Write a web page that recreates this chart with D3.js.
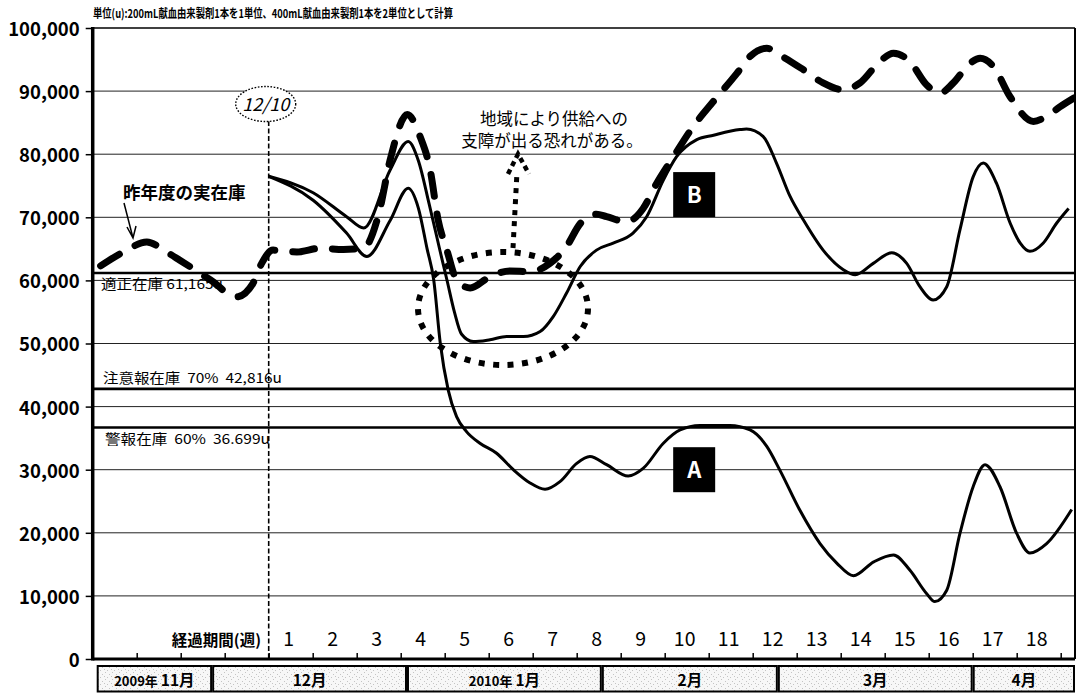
<!DOCTYPE html>
<html>
<head>
<meta charset="utf-8">
<script src="https://cdn.jsdelivr.net/npm/d3@7/dist/d3.min.js"></script>
<style>
  body { margin: 0; background: #fff; }
  svg text { font-family: "Noto Sans CJK JP", "Noto Sans", sans-serif; }
</style>
</head>
<body>
<svg id="chart" width="1078" height="695"></svg>
<script>
// x values are weeks elapsed since 2009-12-10 (week 0), y values are units (u)

// previous year's actual stock
const lastYearWeeks = [-3.82, -3.3, -2.77, -2.32, -2.02, -1.33, -0.73, -0.36, -0.16, 0.1, 0.64, 1.17, 1.7, 2.15, 2.5, 2.76, 3.15, 3.44, 3.67, 3.85, 4.05, 4.27, 4.58, 5.03, 5.48, 5.94, 6.39, 6.77, 7.08, 7.45, 7.68, 8.14, 8.51, 8.82, 9.2, 9.65, 10.1, 10.64, 10.94, 11.32, 11.62, 12.15, 12.6, 13.06, 13.44, 13.89, 14.2, 14.57, 14.95, 15.26, 15.56, 15.94, 16.17, 16.47, 16.85, 17.38, 17.68, 17.98, 18.3];
const lastYearStock = [62300, 64500, 66100, 64500, 63200, 60100, 57400, 59500, 62700, 64800, 64500, 65100, 64900, 65100, 70500, 79100, 86300, 82800, 77500, 69600, 64800, 60100, 58800, 60600, 61500, 61400, 62700, 65400, 69000, 70500, 70100, 69300, 71400, 75400, 79600, 84400, 88300, 92800, 95500, 96800, 95700, 93400, 91300, 90200, 91300, 94700, 96000, 94700, 91000, 89700, 91300, 94400, 95200, 93900, 89100, 85200, 86000, 87500, 88900];

// scenario A
const scenarioAWeeks = [0, 1.01, 1.77, 2.23, 2.76, 3.17, 3.4, 3.6, 3.75, 3.9, 4.08, 4.27, 4.5, 4.8, 5.18, 5.56, 5.94, 6.28, 6.62, 7.0, 7.3, 7.68, 8.17, 8.51, 8.97, 9.35, 9.8, 10.48, 10.94, 11.32, 11.62, 12.07, 12.53, 12.91, 13.29, 13.75, 14.2, 14.57, 14.95, 15.14, 15.41, 15.71, 16.01, 16.28, 16.62, 17.0, 17.3, 17.68, 18.25];
const scenarioAStock = [76500, 72700, 67500, 63800, 69500, 74600, 71500, 65000, 60100, 50000, 42600, 38400, 36000, 34200, 32600, 30000, 27900, 26900, 28100, 31000, 32100, 30800, 29000, 30200, 34200, 36300, 37000, 37000, 36300, 33700, 29900, 23600, 18300, 15200, 13200, 15400, 16500, 14100, 10400, 9100, 10900, 19900, 27300, 30800, 27300, 19900, 16800, 18300, 23700];

// scenario B
const scenarioBWeeks = [0, 1.01, 1.77, 2.16, 2.76, 3.17, 3.4, 3.65, 3.9, 4.05, 4.22, 4.38, 4.65, 5.03, 5.41, 5.79, 6.17, 6.47, 6.77, 7.08, 7.45, 7.83, 8.28, 8.59, 8.97, 9.27, 9.73, 10.11, 10.71, 10.86, 11.24, 11.54, 11.85, 12.15, 12.6, 13.06, 13.33, 13.74, 14.16, 14.5, 14.8, 15.1, 15.41, 15.71, 16.01, 16.24, 16.54, 16.85, 17.08, 17.3, 17.6, 17.91, 18.18];
const scenarioBStock = [76500, 73900, 70100, 68300, 77500, 82000, 79000, 72000, 64500, 60100, 55000, 51500, 50300, 50600, 51100, 51100, 51900, 54300, 58000, 62200, 64800, 65900, 67500, 70100, 75900, 79600, 82300, 83000, 83900, 84000, 82800, 78600, 73300, 69600, 64800, 61700, 60900, 62700, 64400, 62700, 59000, 56900, 59000, 68000, 76400, 78600, 75400, 69100, 65900, 64600, 65900, 69100, 71400];

const yTicks = [0, 10000, 20000, 30000, 40000, 50000, 60000, 70000, 80000, 90000, 100000];
const weekTicks = d3.range(-3, 19);
const weekLabels = d3.range(1, 19);

// stock thresholds
const levelValues = [61165, 42816, 36699];
const levelLabels = ["適正在庫 61,165u", "注意報在庫  70%  42,816u", "警報在庫  60%  36.699u"];

// month strips: first day of each month, as days from 2009-12-10
const monthYears = ["2009年", "", "2010年", "", "", ""];
const monthLabels = ["11月", "12月", "1月", "2月", "3月", "4月"];
const monthStartDays = [-39, -9, 22, 53, 81, 112];

const svg = d3.select("#chart");
const plotL = 92.7, plotR = 1075, plotT = 28, plotB = 659;

const x = d3.scaleLinear().domain([-4, 18.325]).range([plotL, plotR]);
const y = d3.scaleLinear().domain([0, 100000]).range([plotB, plotT]);

const defs = svg.append("defs");
defs.append("clipPath").attr("id", "plot")
  .append("rect").attr("x", plotL).attr("y", plotT - 10).attr("width", plotR - plotL).attr("height", plotB - plotT + 10);

// speckled fill of the month strips
const pat = defs.append("pattern").attr("id", "halftone")
  .attr("width", 7).attr("height", 7).attr("patternUnits", "userSpaceOnUse");
pat.append("rect").attr("width", 7).attr("height", 7).attr("fill", "#f7f7f7");
[[0, 0], [4, 2], [2, 5], [6, 4]].forEach(([a, b]) =>
  pat.append("rect").attr("x", a).attr("y", b).attr("width", 1).attr("height", 1).attr("fill", "#c4c4c4"));

// title
svg.append("text").attr("x", 93).attr("y", 18)
  .attr("font-size", 12).attr("font-weight", "bold")
  .attr("textLength", 360).attr("lengthAdjust", "spacingAndGlyphs")
  .text("単位(u):200mL献血由来製剤1本を1単位、400mL献血由来製剤1本を2単位として計算");

// gridlines and y axis
svg.append("g").selectAll("line").data(yTicks.filter(v => v > 0 && v < 100000)).join("line")
  .attr("x1", plotL).attr("x2", plotR).attr("y1", d => y(d)).attr("y2", d => y(d))
  .attr("stroke", "#222").attr("stroke-width", 1);

const yAxis = d3.axisLeft(y).tickValues(yTicks).tickSize(7).tickPadding(6)
  .tickFormat(d3.format(","));
const ya = svg.append("g").attr("transform", `translate(${plotL},0)`).call(yAxis);
ya.select(".domain").remove();
ya.selectAll(".tick line").attr("stroke", "#000").attr("stroke-width", 1.5);
ya.selectAll(".tick text").attr("font-family", "Liberation Sans, Arial, sans-serif")
  .attr("font-size", 18.5).attr("font-weight", "bold").attr("fill", "#000").attr("dy", "0.4em");

// frame
svg.append("line").attr("x1", plotL).attr("x2", plotR).attr("y1", plotT).attr("y2", plotT)
  .attr("stroke", "#000").attr("stroke-width", 1.5);
svg.append("line").attr("x1", plotR).attr("x2", plotR).attr("y1", plotT).attr("y2", plotB)
  .attr("stroke", "#000").attr("stroke-width", 2);

// threshold lines
svg.append("g").selectAll("line").data(levelValues).join("line")
  .attr("x1", plotL).attr("x2", plotR).attr("y1", d => y(d)).attr("y2", d => y(d))
  .attr("stroke", "#000").attr("stroke-width", 2.6);

const levelPos = [[101, 16, 122], [103, -6, 179], [105, 17, 165]];
svg.append("g").selectAll("text").data(levelLabels).join("text")
  .attr("x", (d, i) => levelPos[i][0])
  .attr("y", (d, i) => y(levelValues[i]) + levelPos[i][1])
  .attr("font-size", 13.5).attr("style", "white-space:pre")
  .attr("textLength", (d, i) => levelPos[i][2]).attr("lengthAdjust", "spacingAndGlyphs")
  .text(d => d);

// week axis
const xAxis = d3.axisTop(x).tickValues(weekTicks).tickSize(6).tickFormat("");
const xa = svg.append("g").attr("transform", `translate(0,${plotB})`).call(xAxis);
xa.select(".domain").remove();
xa.selectAll(".tick line").attr("stroke", "#000").attr("stroke-width", 1.5);

svg.append("g").selectAll("text").data(weekLabels).join("text")
  .attr("x", d => x(d - 0.5) - 2).attr("y", 646)
  .attr("text-anchor", "middle").attr("font-family", "Liberation Sans, Arial, sans-serif")
  .attr("font-size", 19.5).text(d => d);
svg.append("text").attr("x", 261).attr("y", 646).attr("text-anchor", "end")
  .attr("font-size", 15.5).attr("font-weight", "bold").text("経過期間(週)");

// axis lines
svg.append("line").attr("x1", plotL).attr("x2", plotR).attr("y1", plotB).attr("y2", plotB)
  .attr("stroke", "#000").attr("stroke-width", 3);
svg.append("line").attr("x1", plotL).attr("x2", plotL).attr("y1", plotT - 1).attr("y2", plotB + 1.5)
  .attr("stroke", "#000").attr("stroke-width", 3.5);

// month strips
const monthEnds = monthStartDays.slice(1).concat([x.domain()[1] * 7]);
const months = svg.append("g");
monthLabels.forEach((m, i) => {
  const x0 = Math.max(x(monthStartDays[i] / 7), plotL + 4) + 1;
  const x1 = Math.min(x(monthEnds[i] / 7), plotR) - 1;
  months.append("rect").attr("x", x0).attr("y", 666).attr("width", x1 - x0).attr("height", 25.5)
    .attr("fill", "url(#halftone)").attr("stroke", "#000").attr("stroke-width", 2);
  const t = months.append("text").attr("x", (x0 + x1) / 2).attr("y", 686)
    .attr("text-anchor", "middle").attr("font-weight", "bold").attr("style", "white-space:pre");
  if (monthYears[i]) t.append("tspan").attr("font-size", 13).text(monthYears[i] + " ");
  t.append("tspan").attr("font-size", 15.5).text(m);
});

// 12/10 marker
const markX = x(0);
svg.append("line").attr("x1", markX).attr("x2", markX).attr("y1", 121).attr("y2", plotB)
  .attr("stroke", "#000").attr("stroke-width", 1.6).attr("stroke-dasharray", "5 2.5");
svg.append("ellipse").attr("cx", markX - 3).attr("cy", 104).attr("rx", 30).attr("ry", 17.5)
  .attr("fill", "#fff").attr("stroke", "#000").attr("stroke-width", 1.4).attr("stroke-dasharray", "1.6 1.6");
svg.append("text").attr("x", markX - 3).attr("y", 110.5).attr("text-anchor", "middle")
  .attr("font-family", "Liberation Serif, DejaVu Serif, serif").attr("font-style", "italic")
  .attr("font-size", 18).text("12/10");

// series
const line = d3.line().x(d => x(d[0])).y(d => y(d[1])).curve(d3.curveMonotoneX);
const series = svg.append("g").attr("clip-path", "url(#plot)");
const pairs = (a, b) => a.map((w, i) => [w, b[i]]);

series.append("path").datum(pairs(scenarioBWeeks, scenarioBStock))
  .attr("d", line).attr("fill", "none").attr("stroke", "#000").attr("stroke-width", 3)
  .attr("stroke-linejoin", "round");
series.append("path").datum(pairs(scenarioAWeeks, scenarioAStock))
  .attr("d", line).attr("fill", "none").attr("stroke", "#000").attr("stroke-width", 3)
  .attr("stroke-linejoin", "round");
series.append("path").datum(pairs(lastYearWeeks, lastYearStock))
  .attr("d", line).attr("fill", "none").attr("stroke", "#000").attr("stroke-width", 7)
  .attr("stroke-linecap", "round").attr("stroke-dasharray", "22 18");

// previous-year label with arrow
svg.append("text").attr("x", 123).attr("y", 199).attr("font-size", 17.5).attr("font-weight", "bold")
  .text("昨年度の実在庫");
svg.append("path").attr("d", "M124,203 L133,238 M127,227 L133,238 L136,226")
  .attr("fill", "none").attr("stroke", "#000").attr("stroke-width", 1.5);

// supply-risk annotation
svg.append("ellipse").attr("cx", 503).attr("cy", 308.5).attr("rx", 85).attr("ry", 56.5)
  .attr("fill", "none").attr("stroke", "#000").attr("stroke-width", 6).attr("stroke-dasharray", "6 8.5");
svg.append("path").attr("d", "M513,248 L517,172")
  .attr("fill", "none").attr("stroke", "#000").attr("stroke-width", 5).attr("stroke-dasharray", "5 6");
svg.append("path").attr("d", "M508,174 L518,154 L529,174")
  .attr("fill", "none").attr("stroke", "#000").attr("stroke-width", 4.5).attr("stroke-dasharray", "5 4");
svg.append("text").attr("x", 554).attr("y", 125).attr("text-anchor", "middle").attr("font-size", 16.5)
  .text("地域により供給への");
svg.append("text").attr("x", 552).attr("y", 147).attr("text-anchor", "middle").attr("font-size", 16.5)
  .text("支障が出る恐れがある。");

// scenario tags
[["A", 9.67, 30000], ["B", 9.67, 73600]].forEach(([k, w, v]) => {
  const cx = x(w), cy = y(v);
  svg.append("rect").attr("x", cx - 21).attr("y", cy - 22.5).attr("width", 42).attr("height", 45).attr("fill", "#000");
  svg.append("text").attr("x", cx).attr("y", cy + 8).attr("text-anchor", "middle")
    .attr("font-family", "Liberation Sans, Arial, sans-serif").attr("font-weight", "bold")
    .attr("font-size", 22).attr("fill", "#fff").text(k);
});
</script>
</body>
</html>
